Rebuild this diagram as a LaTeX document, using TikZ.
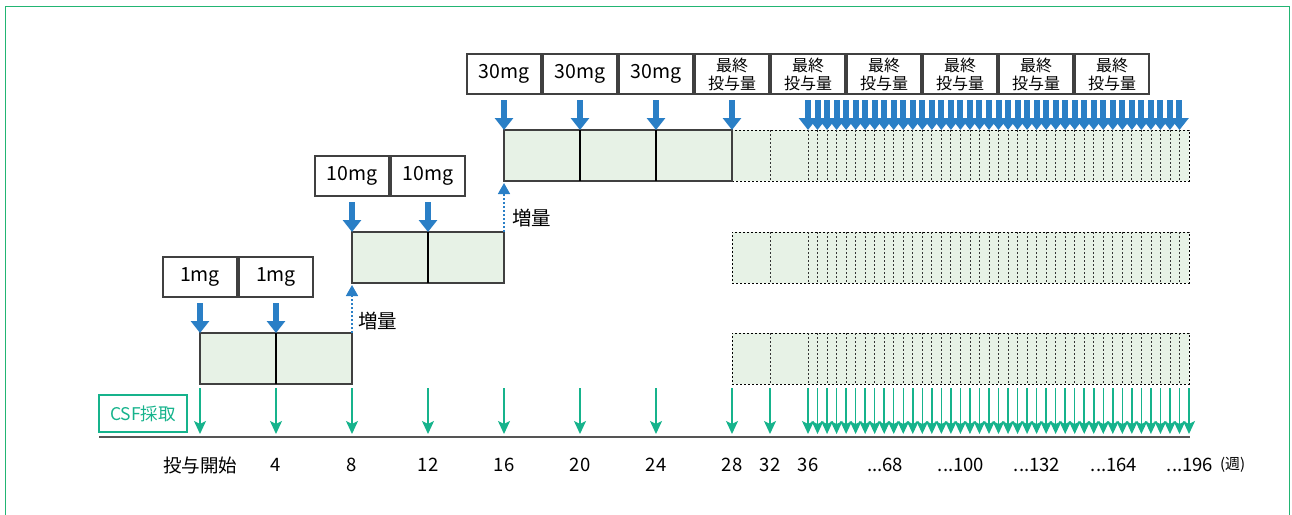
\documentclass[tikz,border=0pt]{standalone}
\usepackage{fontspec}
\setmainfont{Noto Sans CJK JP}
\usetikzlibrary{arrows.meta}
\definecolor{cellgreen}{HTML}{E7F2E6}
\definecolor{doseblue}{HTML}{2A7FC6}
\definecolor{csfgreen}{HTML}{16B38C}
\definecolor{framegreen}{HTML}{22B573}
\definecolor{axisgray}{HTML}{555555}
\begin{document}
\begin{tikzpicture}[x=1pt,y=-1pt,
  every node/.style={outer sep=0pt, inner sep=0pt},
  dosebox/.style={draw=black!75, line width=1.1pt, minimum width=74pt, minimum height=40pt,
    font=\fontsize{19.5}{21}\selectfont},
  finalbox/.style={dosebox, align=center, font=\fontsize{16}{18}\selectfont},
  cellrow/.style={draw=black!75, fill=cellgreen, line width=1.1pt, minimum height=51pt, anchor=north west},
  dashrow/.style={draw=black, fill=cellgreen, line width=0.8pt, dash pattern=on 2pt off 2pt,
    minimum height=51pt, minimum width=457pt, anchor=north west},
  divline/.style={draw=black, line width=1.1pt},
  dashdiv/.style={draw=black!80, line width=0.8pt, dash pattern=on 2pt off 2pt},
  bluearr/.style={draw=doseblue, line width=6pt, -{Triangle[width=18pt,length=12pt]}},
  csfarr/.style={draw=csfgreen, line width=1.5pt, -{Stealth[width=12pt,length=13pt,inset=3pt]}},
  dotarr/.style={draw=doseblue, line width=1.6pt, dash pattern=on 2pt off 2pt,
    -{Triangle[width=12pt,length=11pt]}, shorten >=2pt},
  axlabel/.style={font=\fontsize{18.5}{21}\selectfont},
  uplabel/.style={font=\fontsize{19.5}{22}\selectfont, anchor=west}
]
\useasboundingbox (0,0) rectangle (1292,514);
% outer frame (open at the bottom)
\draw[framegreen, line width=1.6pt] (5.5,520) -- (5.5,6.5) -- (1289.5,6.5) -- (1289.5,520);

% dashed continuation rows
\node[dashrow] (d3) at (732,130) {};
\node[dashrow] (d2) at (732,232) {};
\node[dashrow] (d1) at (732,333) {};
\foreach \yy in {130,232,333}{
  \draw[dashdiv] (770,\yy) -- (770,\yy+51);
  \foreach \k in {0,...,39}{
    \draw[dashdiv] (808+9.525*\k,\yy) -- (808+9.525*\k,\yy+51);
  }
}

% solid cell rows
\node[cellrow, minimum width=152pt] (r1) at (200,333) {};
\draw[divline] (r1.north) -- (r1.south);
\node[cellrow, minimum width=152pt] (r2) at (352,232) {};
\draw[divline] (r2.north) -- (r2.south);
\node[cellrow, minimum width=228pt] (r3) at (504,130) {};
\draw[divline] (580,130) -- (580,181);
\draw[divline] (656,130) -- (656,181);

% dose boxes
\node[dosebox] (b1a) at (200,277) {1mg};
\node[dosebox] (b1b) at (276,277) {1mg};
\node[dosebox] (b2a) at (352,176) {10mg};
\node[dosebox] (b2b) at (428,176) {10mg};
\node[dosebox] (b3a) at (504,74) {30mg};
\node[dosebox] (b3b) at (580,74) {30mg};
\node[dosebox] (b3c) at (656,74) {30mg};
\node[finalbox] (f1) at (732,74) {最終\\投与量};
\node[finalbox] (f2) at (808,74) {最終\\投与量};
\node[finalbox] (f3) at (884,74) {最終\\投与量};
\node[finalbox] (f4) at (960,74) {最終\\投与量};
\node[finalbox] (f5) at (1036,74) {最終\\投与量};
\node[finalbox] (f6) at (1112,74) {最終\\投与量};

% blue dosing arrows
\draw[bluearr] ([yshift=-6pt]b1a.south) -- (r1.north west);
\draw[bluearr] ([yshift=-6pt]b1b.south) -- (r1.north);
\draw[bluearr] ([yshift=-6pt]b2a.south) -- (r2.north west);
\draw[bluearr] ([yshift=-6pt]b2b.south) -- (r2.north);
\draw[bluearr] ([yshift=-6pt]b3a.south) -- (r3.north west);
\draw[bluearr] ([yshift=-6pt]b3b.south) -- (580,130);
\draw[bluearr] ([yshift=-6pt]b3c.south) -- (656,130);
\draw[bluearr] ([yshift=-6pt]f1.south) -- (r3.north east);
\foreach \k in {0,...,39}{
  \draw[bluearr] (808+9.525*\k,100) -- (808+9.525*\k,130);
}

% dose increase arrows
\draw[dotarr] (r1.north east) -- (r2.south west);
\node[uplabel] (inc1) at (358,321) {増量};
\draw[dotarr] (r2.north east) -- (r3.south west);
\node[uplabel] (inc2) at (512,218) {増量};

% CSF sampling
\node[draw=csfgreen, line width=1.5pt, text=csfgreen, minimum width=88pt, minimum height=37pt,
  anchor=north west, font=\fontsize{17.5}{20}\selectfont] (csf) at (99,395) {CSF採取};
\foreach \w in {0,4,...,28}{
  \draw[csfarr] (200+19*\w,388) -- (200+19*\w,434);
}
\draw[csfarr] (770,388) -- (770,434);
\foreach \k in {0,...,40}{
  \draw[csfarr] (808+9.525*\k,388) -- (808+9.525*\k,434);
}

% time axis
\coordinate (axL) at (99,437);
\coordinate (axR) at (1190,437);
\draw[axisgray, line width=1.8pt] (axL) -- (axR);

\node[axlabel] (t0) at (200,465) {投与開始};
\node[axlabel] (t4) at (276,465) {4};
\node[axlabel] (t8) at (352,465) {8};
\node[axlabel] (t12) at (428,465) {12};
\node[axlabel] (t16) at (504,465) {16};
\node[axlabel] (t20) at (580,465) {20};
\node[axlabel] (t24) at (656,465) {24};
\node[axlabel] (t28) at (732,465) {28};
\node[axlabel] (t32) at (770,465) {32};
\node[axlabel] (t36) at (808,465) {36};
\node[axlabel] (t68) at (885,465) {...68};
\node[axlabel] (t100) at (961,465) {...100};
\node[axlabel] (t132) at (1037,465) {...132};
\node[axlabel] (t164) at (1114,465) {...164};
\node[axlabel] (t196) at (1190,465) {...196};
\node[font=\fontsize{15}{18}\selectfont, anchor=west] (unit) at (1220,465) {(週)};
\end{tikzpicture}
\end{document}
